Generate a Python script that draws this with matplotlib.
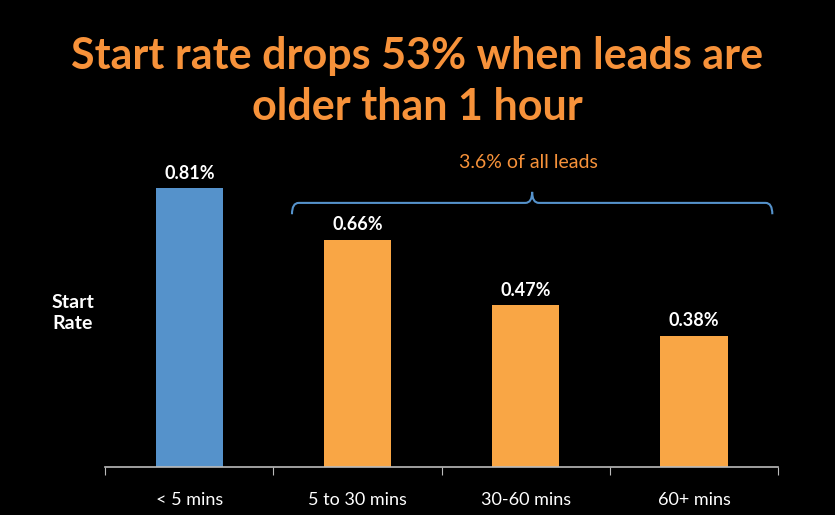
import matplotlib.pyplot as plt
from matplotlib.path import Path
from matplotlib.patches import PathPatch

plt.rcParams['font.family'] = ['Lato', 'DejaVu Sans']

# Data
categories = ["< 5 mins", "5 to 30 mins", "30-60 mins", "60+ mins"]
start_rate = [0.81, 0.66, 0.47, 0.38]
bar_colors = ["#5592CB", "#F9A645", "#F9A645", "#F9A645"]
value_labels = ["0.81%", "0.66%", "0.47%", "0.38%"]

title = "Start rate drops 53% when leads are\nolder than 1 hour"
brace_label = "3.6% of all leads"

orange = "#F7923A"
brace_color = "#5592CB"

fig = plt.figure(figsize=(8.35, 5.15), dpi=100, facecolor="black")
ax = fig.add_axes([0.126, 0.093, 0.806, 0.668], facecolor="black")

x = list(range(len(categories)))
bars = ax.bar(x, start_rate, width=0.4, color=bar_colors)

for xi, v, lab in zip(x, start_rate, value_labels):
    ax.text(xi, v + 0.02, lab, ha="center", va="bottom", color="white",
            fontsize=13, fontweight="bold")

ax.set_xlim(-0.5, 3.5)
ax.set_ylim(0, 1.0)
ax.set_xticks([-0.5, 0.5, 1.5, 2.5, 3.5])
ax.set_xticklabels([])
ax.set_xticks(x, minor=True)
ax.set_xticklabels(categories, minor=True, color="white", fontsize=13)
ax.tick_params(axis="x", which="major", length=6, color="#BBBBBB", direction="out")
ax.tick_params(axis="x", which="minor", length=0, pad=18)
ax.set_yticks([])
for side in ["top", "right", "left"]:
    ax.spines[side].set_visible(False)
ax.spines["bottom"].set_color("#BBBBBB")
ax.spines["bottom"].set_linewidth(1.2)

# curly brace over the last three bars
x0, x1 = 0.61, 3.465
xm = (x0 + x1) / 2
y_end, y_line, y_tip = 0.735, 0.768, 0.80
dx = 0.04
verts = [
    (x0, y_end), (x0, y_line), (x0 + dx, y_line),
    (xm - dx, y_line), (xm, y_line), (xm, y_tip),
    (xm, y_line), (xm + dx, y_line),
    (x1 - dx, y_line), (x1, y_line), (x1, y_end),
]
codes = [
    Path.MOVETO, Path.CURVE3, Path.CURVE3,
    Path.LINETO, Path.CURVE3, Path.CURVE3,
    Path.CURVE3, Path.CURVE3,
    Path.LINETO, Path.CURVE3, Path.CURVE3,
]
ax.add_patch(PathPatch(Path(verts, codes), facecolor="none",
                       edgecolor=brace_color, linewidth=1.5, clip_on=False))
ax.text(xm - 0.02, 0.885, brace_label, ha="center", va="center",
        color=orange, fontsize=14)

fig.text(0.087, 0.392, "Start\nRate", ha="center", va="center", color="white",
         fontsize=14, fontweight="bold", linespacing=1.3)

fig.text(0.5, 0.842, title, ha="center", va="center", color=orange,
         fontsize=31, fontweight="bold", linespacing=1.35)

fig.savefig("out.png", dpi=100, facecolor="black")
